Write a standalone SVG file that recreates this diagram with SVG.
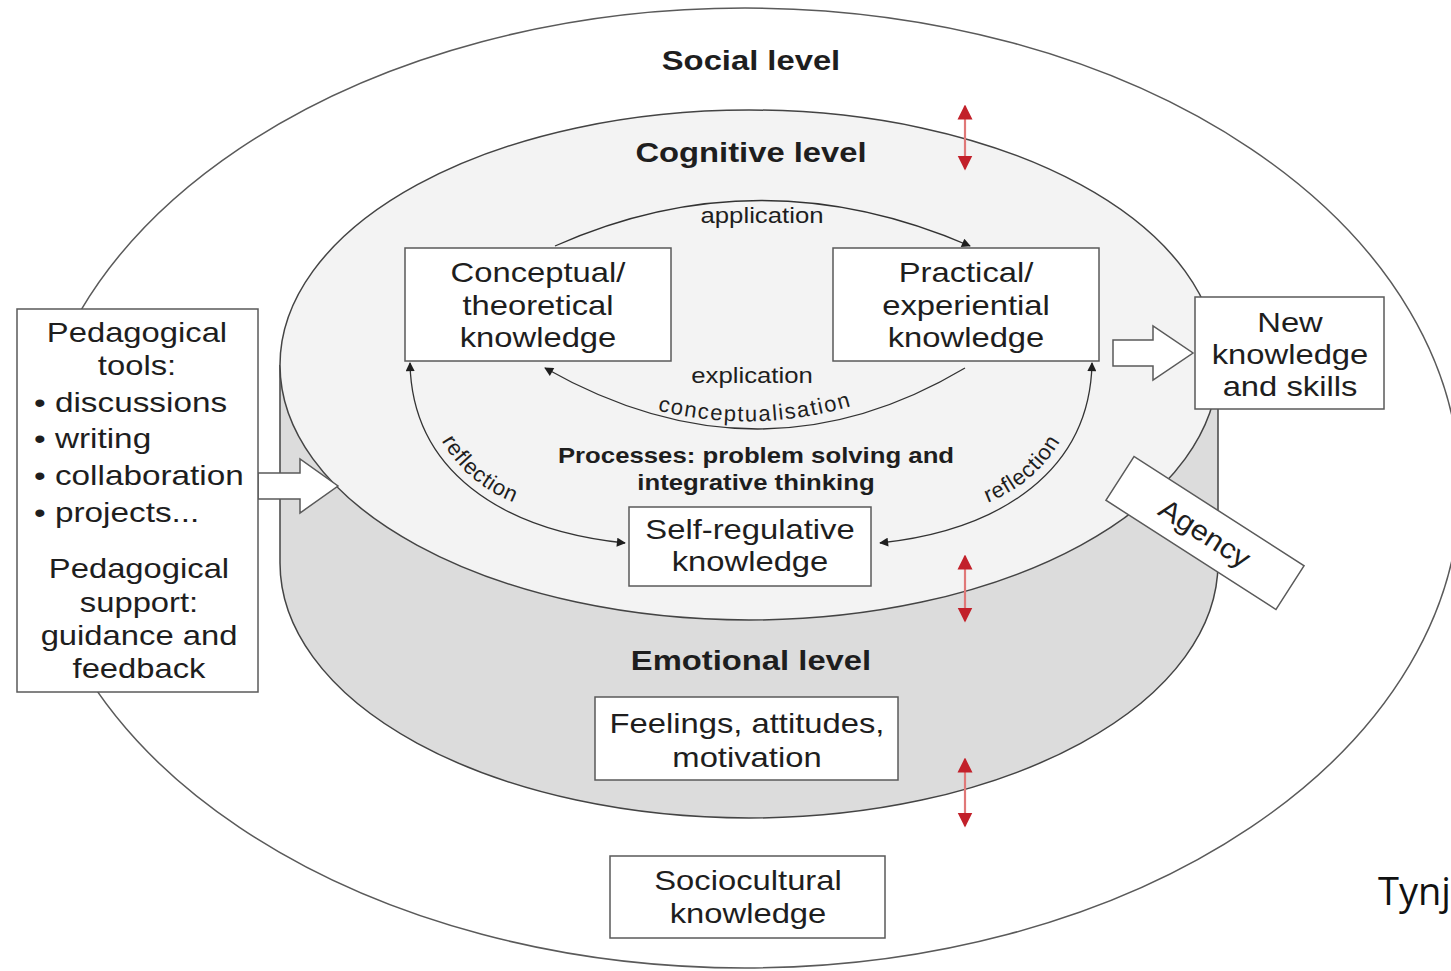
<svg xmlns="http://www.w3.org/2000/svg" width="1451" height="971" viewBox="0 0 1451 971">
<style>
.f{font-family:"Liberation Sans",Arial,sans-serif;fill:#1e1e1e;text-anchor:middle}
.b28{font-size:28px;font-weight:bold}
.r28{font-size:28px}
.r22{font-size:22px}
.b22{font-size:22px;font-weight:bold}
.box{fill:#fff;stroke:#5a5a5a;stroke-width:1.5}
.ln{fill:none;stroke:#333;stroke-width:1.3}
.red{stroke:#e07878;stroke-width:2.2;fill:none}
.hol{fill:#fff;stroke:#5a5a5a;stroke-width:1.5}
</style>
<defs>
<marker id="ah" viewBox="0 0 10 10" refX="9" refY="5" markerWidth="11" markerHeight="9" markerUnits="userSpaceOnUse" orient="auto-start-reverse"><path d="M0,0 L10,5 L0,10 z" fill="#1e1e1e"/></marker>
<marker id="rh" viewBox="0 0 10 10" refX="9" refY="5" markerWidth="15" markerHeight="16" markerUnits="userSpaceOnUse" orient="auto-start-reverse"><path d="M0,0 L10,5 L0,10 z" fill="#c2202a"/></marker>
<path id="pConc" d="M 652 409 Q 755 436 858 404"/>
<path id="pRefL" d="M 434 426 Q 462 488 530 508"/>
<path id="pRefR" d="M 972 508 Q 1040 488 1068 426"/>
</defs>
<rect width="1451" height="971" fill="#fff"/>

<g id="social-level">
<ellipse cx="745" cy="488" rx="715" ry="480" fill="#fff" stroke="#5a5a5a" stroke-width="1.5"/>
<text class="f b28" transform="translate(751 70) scale(1.17 1)">Social level</text>
</g>

<g id="cylinder">
<path d="M 280 365 L 280 563 A 469 255 0 0 0 1218 563 L 1218 365 Z" fill="#dcdcdc"/>
<path d="M 280 365 L 280 563 A 469 255 0 0 0 1218 563 L 1218 365" fill="none" stroke="#444" stroke-width="1.5"/>
<ellipse cx="749" cy="365" rx="469" ry="255" fill="#f3f3f3" stroke="#444" stroke-width="1.5"/>
<text class="f b28" transform="translate(751 162) scale(1.17 1)">Cognitive level</text>
<text class="f b28" transform="translate(751 670) scale(1.17 1)">Emotional level</text>
<text class="f b22" transform="translate(756 463) scale(1.17 1)">Processes: problem solving and</text>
<text class="f b22" transform="translate(756 490) scale(1.17 1)">integrative thinking</text>
</g>

<g id="connectors">
<path class="ln" d="M 555 246 Q 760 155 970 246" marker-end="url(#ah)"/>
<path class="ln" d="M 965 368 Q 760 490 545 368" marker-end="url(#ah)"/>
<path class="ln" d="M 625 543 C 500 530 412 470 410 363" marker-start="url(#ah)" marker-end="url(#ah)"/>
<path class="ln" d="M 880 543 C 1002 530 1090 470 1092 363" marker-start="url(#ah)" marker-end="url(#ah)"/>
<text class="f r22" transform="translate(762 223) scale(1.17 1)">application</text>
<text class="f r22" transform="translate(752 383) scale(1.17 1)">explication</text>
<text class="f r22" style="letter-spacing:1.6px"><textPath href="#pConc" startOffset="50%">conceptualisation</textPath></text>
<text class="f r22" style="letter-spacing:0.8px"><textPath href="#pRefL" startOffset="50%">reflection</textPath></text>
<text class="f r22" style="letter-spacing:0.8px"><textPath href="#pRefR" startOffset="50%">reflection</textPath></text>
<polygon class="hol" points="258,473 300,473 300,459 338,486 300,513 300,499 258,499"/>
<polygon class="hol" points="1113,340 1153,340 1153,326 1193,353 1153,380 1153,366 1113,366"/>
<line class="red" x1="965" y1="106" x2="965" y2="169" marker-start="url(#rh)" marker-end="url(#rh)"/>
<line class="red" x1="965" y1="556" x2="965" y2="621" marker-start="url(#rh)" marker-end="url(#rh)"/>
<line class="red" x1="965" y1="759" x2="965" y2="826" marker-start="url(#rh)" marker-end="url(#rh)"/>
</g>

<g id="conceptual">
<rect class="box" x="405" y="248" width="266" height="113"/>
<text class="f r28" transform="translate(538 282) scale(1.17 1)">Conceptual/</text>
<text class="f r28" transform="translate(538 315) scale(1.17 1)">theoretical</text>
<text class="f r28" transform="translate(538 347) scale(1.17 1)">knowledge</text>
</g>

<g id="practical">
<rect class="box" x="833" y="248" width="266" height="113"/>
<text class="f r28" transform="translate(966 282) scale(1.17 1)">Practical/</text>
<text class="f r28" transform="translate(966 315) scale(1.17 1)">experiential</text>
<text class="f r28" transform="translate(966 347) scale(1.17 1)">knowledge</text>
</g>

<g id="self-regulative">
<rect class="box" x="629" y="507" width="242" height="79"/>
<text class="f r28" transform="translate(750 539) scale(1.17 1)">Self-regulative</text>
<text class="f r28" transform="translate(750 571) scale(1.17 1)">knowledge</text>
</g>

<g id="new-knowledge">
<rect class="box" x="1195" y="297" width="189" height="112"/>
<text class="f r28" transform="translate(1290 332) scale(1.17 1)">New</text>
<text class="f r28" transform="translate(1290 364) scale(1.17 1)">knowledge</text>
<text class="f r28" transform="translate(1290 396) scale(1.17 1)">and skills</text>
</g>

<g id="agency" transform="translate(1205 533) rotate(32.7)">
<rect class="box" x="-101" y="-26" width="202" height="52"/>
<text class="f r28" transform="translate(0 10) scale(1.1 1)">Agency</text>
</g>

<g id="pedagogical">
<rect class="box" x="17" y="309" width="241" height="383"/>
<text class="f r28" transform="translate(137 342) scale(1.17 1)">Pedagogical</text>
<text class="f r28" transform="translate(137 375) scale(1.17 1)">tools:</text>
<text class="f r28" style="text-anchor:start" transform="translate(34 412) scale(1.19 1)">• discussions</text>
<text class="f r28" style="text-anchor:start" transform="translate(34 448) scale(1.19 1)">• writing</text>
<text class="f r28" style="text-anchor:start" transform="translate(34 485) scale(1.19 1)">• collaboration</text>
<text class="f r28" style="text-anchor:start" transform="translate(34 522) scale(1.19 1)">• projects...</text>
<text class="f r28" transform="translate(139 578) scale(1.17 1)">Pedagogical</text>
<text class="f r28" transform="translate(139 612) scale(1.17 1)">support:</text>
<text class="f r28" transform="translate(139 645) scale(1.17 1)">guidance and</text>
<text class="f r28" transform="translate(139 678) scale(1.17 1)">feedback</text>
</g>

<g id="feelings">
<rect class="box" x="595" y="697" width="303" height="83"/>
<text class="f r28" transform="translate(747 733) scale(1.17 1)">Feelings, attitudes,</text>
<text class="f r28" transform="translate(747 767) scale(1.17 1)">motivation</text>
</g>

<g id="sociocultural">
<rect class="box" x="610" y="856" width="275" height="82"/>
<text class="f r28" transform="translate(748 890) scale(1.17 1)">Sociocultural</text>
<text class="f r28" transform="translate(748 923) scale(1.17 1)">knowledge</text>
</g>

<g id="credit">
<text x="1378" y="905" style="font-family:'Open Sans','Liberation Sans',sans-serif;font-size:38px;fill:#111">Tynj</text>
</g>
</svg>
